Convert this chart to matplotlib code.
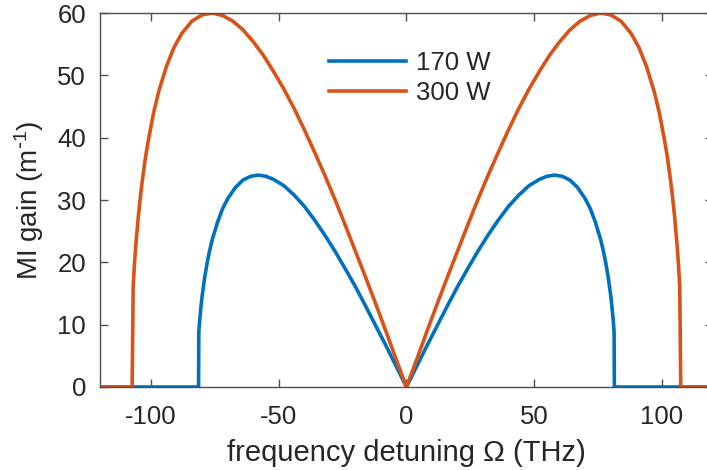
import numpy as np
import matplotlib
matplotlib.use("Agg")
import matplotlib.pyplot as plt

plt.rcParams['font.family'] = ['Liberation Sans', 'DejaVu Sans']
plt.rcParams['mathtext.default'] = 'regular'
plt.rcParams['axes.unicode_minus'] = False

# positive-detuning half of each gain curve (curves are symmetric)
omega_170 = [0, 4, 8, 12, 16, 20, 24, 28, 32, 36, 40, 44, 48, 52, 55, 58, 61, 64, 67, 70, 72, 74,
             76, 77, 78, 79, 80, 80.5, 81, 81.3, 81.4, 120]
gain_170 = [0, 3.3, 6.6, 9.8, 13.0, 16.1, 19.0, 21.8, 24.4, 26.8, 29.0, 30.8, 32.3, 33.3, 33.8, 34.0,
            33.8, 33.2, 32.0, 30.2, 28.6, 26.4, 23.7, 22.0, 20.0, 17.6, 14.6, 12.7, 10.5, 8.8, 0, 0]

omega_300 = [0, 4, 8, 12, 16, 20, 24, 28, 32, 36, 40, 44, 48, 52, 56, 60, 64, 68, 72, 76, 80, 84,
             88, 91, 94, 97, 99, 101, 102, 103, 104, 105, 106, 106.5, 107, 107.4, 120]
gain_300 = [0, 4.4, 8.9, 13.3, 17.6, 21.8, 26.0, 30.1, 34.0, 37.7, 41.3, 44.7, 47.8, 50.6, 53.2,
            55.4, 57.3, 58.7, 59.6, 60.0, 59.7, 58.7, 56.7, 54.5, 51.4, 47.4, 44.0, 39.7, 37.3,
            34.4, 31.2, 27.3, 22.6, 19.7, 16.1, 0, 0]

labels = ['170 W', '300 W']
colors = ['#0072BD', '#D95319']
axis_color = '#4d4d4d'
text_color = '#262626'


def mirror(x, y):
    x = np.asarray(x, dtype=float)
    y = np.asarray(y, dtype=float)
    return np.concatenate([-x[::-1], x[1:]]), np.concatenate([y[::-1], y[1:]])


fig = plt.figure(figsize=(7.07, 4.70), dpi=100)
ax = fig.add_axes([0.1414, 0.1766, 0.867, 0.7957])

for (om, g), lab, col in zip([(omega_170, gain_170), (omega_300, gain_300)], labels, colors):
    x, y = mirror(om, g)
    ax.plot(x, y, color=col, lw=2.6, label=lab, solid_joinstyle='round')

ax.set_xlim(-120, 120)
ax.set_ylim(0, 60)
ax.set_xticks([-100, -50, 0, 50, 100])
ax.set_yticks([0, 10, 20, 30, 40, 50, 60])

ax.tick_params(direction='in', length=6, width=1.0, top=True, right=True,
               colors=axis_color, labelcolor=text_color, labelsize=18.5)
ax.tick_params(axis='x', pad=13)
ax.tick_params(axis='y', pad=10)
for sp in ax.spines.values():
    sp.set_color(axis_color)
    sp.set_linewidth(1.0)

ax.set_xlabel('frequency detuning Ω (THz)', fontsize=21, color=text_color, labelpad=7)
ax.set_ylabel('MI gain (m$^{\\text{-}1}$)', fontsize=20, color=text_color, labelpad=8)

ax.legend(loc='center', bbox_to_anchor=(0.505, 0.827), frameon=False, fontsize=18.5,
          handlelength=3.0, handletextpad=0.4, labelspacing=0.25, labelcolor=text_color)

fig.savefig('out.png', dpi=100)
